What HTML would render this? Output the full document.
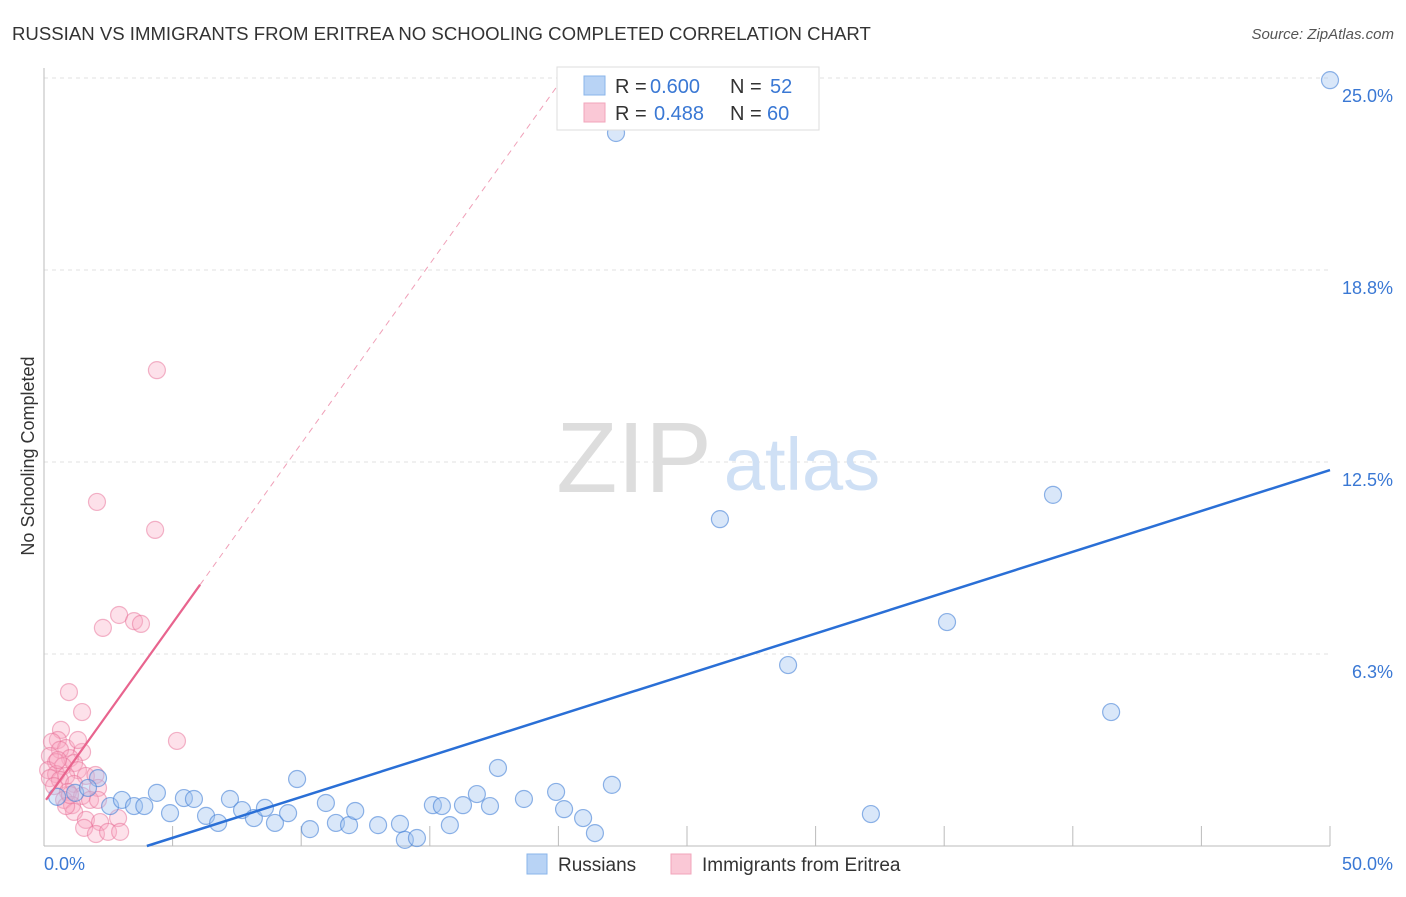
<!DOCTYPE html>
<html><head><meta charset="utf-8"><style>
body{margin:0;background:#fff;font-family:"Liberation Sans",sans-serif;}
svg text{font-family:"Liberation Sans",sans-serif;}
</style></head><body>
<svg width="1406" height="892">
<text x="12" y="40" font-size="18.6" fill="#333">RUSSIAN VS IMMIGRANTS FROM ERITREA NO SCHOOLING COMPLETED CORRELATION CHART</text>
<text x="1394" y="39" font-size="15" fill="#555" font-style="italic" text-anchor="end">Source: ZipAtlas.com</text>
<g id="grid"></g>
<text x="634" y="492" font-size="100" fill="#ddd" font-family="Liberation Serif" text-anchor="middle">ZIP</text>
<text x="802" y="490" font-size="74" fill="#cfe0f5" text-anchor="middle">atlas</text>
<g id="axes"></g>
<g id="marks"></g>
<text transform="translate(34,456) rotate(-90)" font-size="18" fill="#333" text-anchor="middle">No Schooling Completed</text>
<g>
<rect x="557" y="67" width="262" height="63" fill="#fff" stroke="#ddd"/>
<rect x="584" y="76" width="21" height="19" fill="#b8d3f5" stroke="#8ab4ea"/>
<rect x="584" y="103" width="21" height="19" fill="#fac8d6" stroke="#f2a5bb"/>
<text x="615" y="93" font-size="20" fill="#333">R =</text>
<text x="650" y="93" font-size="20" fill="#3a78d4">0.600</text>
<text x="730" y="93" font-size="20" fill="#333">N =</text>
<text x="770" y="93" font-size="20" fill="#3a78d4">52</text>
<text x="615" y="120" font-size="20" fill="#333">R =</text>
<text x="654" y="120" font-size="20" fill="#3a78d4">0.488</text>
<text x="730" y="120" font-size="20" fill="#333">N =</text>
<text x="767" y="120" font-size="20" fill="#3a78d4">60</text>
</g>
<g>
<rect x="527" y="854" width="20" height="20" fill="#b8d3f5" stroke="#8ab4ea"/>
<text x="558" y="871" font-size="19" fill="#333">Russians</text>
<rect x="671" y="854" width="20" height="20" fill="#fac8d6" stroke="#f2a5bb"/>
<text x="702" y="871" font-size="19" fill="#333">Immigrants from Eritrea</text>
</g>
</svg>
<script>
const yTicks=[6.25,12.5,18.75,25];
const yTickLabels=["6.3%","12.5%","18.8%","25.0%"];
const xTicks=[5,10,15,20,25,30,35,40,45,50];
const blueX=[50,22.24,26.28,39.23,35.11,28.93,41.49,32.15,2.10,0.51,1.21,1.71,2.57,3.03,3.50,3.90,4.39,4.90,5.44,5.83,6.30,6.77,7.23,7.70,8.16,8.59,8.98,9.49,9.84,10.34,10.96,11.35,11.86,12.10,12.99,13.84,14.03,14.50,15.12,15.47,15.78,16.29,16.83,17.34,17.65,18.66,19.91,20.22,20.96,21.42,22.08];
const blueY=[24.93,23.21,10.64,11.43,7.29,5.89,4.36,1.04,2.21,1.60,1.73,1.89,1.30,1.50,1.30,1.30,1.73,1.07,1.56,1.53,0.98,0.75,1.53,1.17,0.91,1.24,0.75,1.07,2.18,0.55,1.40,0.75,0.68,1.14,0.68,0.72,0.20,0.26,1.33,1.30,0.68,1.33,1.69,1.30,2.54,1.53,1.76,1.20,0.91,0.42,1.99];
const pinkX=[4.39,2.06,4.32,2.92,2.29,3.50,3.77,0.97,1.48,5.17,0.66,0.54,0.31,0.86,0.62,1.48,0.23,1.01,0.47,1.17,0.74,0.16,1.32,0.47,0.86,1.63,0.23,0.62,2.0,1.17,0.39,2.1,0.93,1.48,1.79,0.78,1.09,2.1,1.17,0.86,1.63,2.18,2.88,1.56,2.02,2.49,2.96,1.01,0.54,1.32];
const pinkY=[15.49,11.2,10.29,7.52,7.10,7.32,7.23,5.01,4.36,3.42,3.78,3.45,3.39,3.19,3.13,3.06,2.93,2.86,2.73,2.70,2.60,2.47,2.47,2.34,2.28,2.28,2.21,2.15,2.31,2.02,1.95,1.89,1.76,1.63,1.50,1.50,1.33,1.50,1.11,1.30,0.85,0.78,0.91,0.59,0.39,0.46,0.46,1.66,2.80,3.45];
const blueFit=[-1.064,0.266];
const pinkFit=[1.41,1.169];
const NS="http://www.w3.org/2000/svg";
const X=v=>44+v*25.72, Y=v=>846-v*30.72;
function mk(p,tag,a){const e=document.createElementNS(NS,tag);for(const k in a)e.setAttribute(k,a[k]);p.appendChild(e);return e;}
const grid=document.getElementById('grid'),axes=document.getElementById('axes'),marks=document.getElementById('marks');
yTicks.forEach((t,i)=>{
 const l=mk(grid,'line',{x1:44,x2:1330,y1:Y(t),y2:Y(t),stroke:'#e2e2e2','stroke-dasharray':'4,4'});
 
 
 const tx=mk(axes,'text',{x:1393,y:Y(t)+24,'font-size':18,fill:'#3a78d4','text-anchor':'end'});
 tx.textContent=yTickLabels[i];
 
 
});
let a=mk(axes,'line',{x1:44,x2:44,y1:68,y2:846,stroke:'#bbb'});


a=mk(axes,'line',{x1:44,x2:1330,y1:846,y2:846,stroke:'#bbb'});


xTicks.forEach(t=>{const l=mk(axes,'line',{x1:X(t),x2:X(t),y1:826,y2:846,stroke:'#bbb'});
 
 });
let t0=mk(axes,'text',{x:44,y:870,'font-size':18,fill:'#3a78d4'});t0.textContent='0.0%';


let t1=mk(axes,'text',{x:1393,y:870,'font-size':18,fill:'#3a78d4','text-anchor':'end'});t1.textContent='50.0%';


pinkX.forEach((x,i)=>{const c=mk(marks,'circle',{cx:X(x),cy:Y(pinkY[i]),r:8.5,fill:'rgba(248,170,195,0.35)',stroke:'rgba(232,110,150,0.5)','stroke-width':1.2});
 
 });
blueX.forEach((x,i)=>{const c=mk(marks,'circle',{cx:X(x),cy:Y(blueY[i]),r:8.5,fill:'rgba(160,196,240,0.4)',stroke:'rgba(70,130,215,0.6)','stroke-width':1.2});
 
 });
const bx0=-blueFit[0]/blueFit[1];
let bl=mk(marks,'line',{x1:X(bx0),y1:Y(0),x2:X(50),y2:Y(blueFit[0]+blueFit[1]*50),stroke:'#2a6fd6','stroke-width':2.5});


const pxe=(25-pinkFit[0])/pinkFit[1];
let pd=mk(marks,'line',{x1:X(6.07),y1:Y(pinkFit[0]+pinkFit[1]*6.07),x2:X(pxe),y2:Y(25),stroke:'#f0a0b8','stroke-width':1,'stroke-dasharray':'6,5'});


let pl=mk(marks,'line',{x1:X(0.08),y1:Y(pinkFit[0]+pinkFit[1]*0.08),x2:X(6.07),y2:Y(pinkFit[0]+pinkFit[1]*6.07),stroke:'#e8648e','stroke-width':2.2});


</script>
</body></html>
